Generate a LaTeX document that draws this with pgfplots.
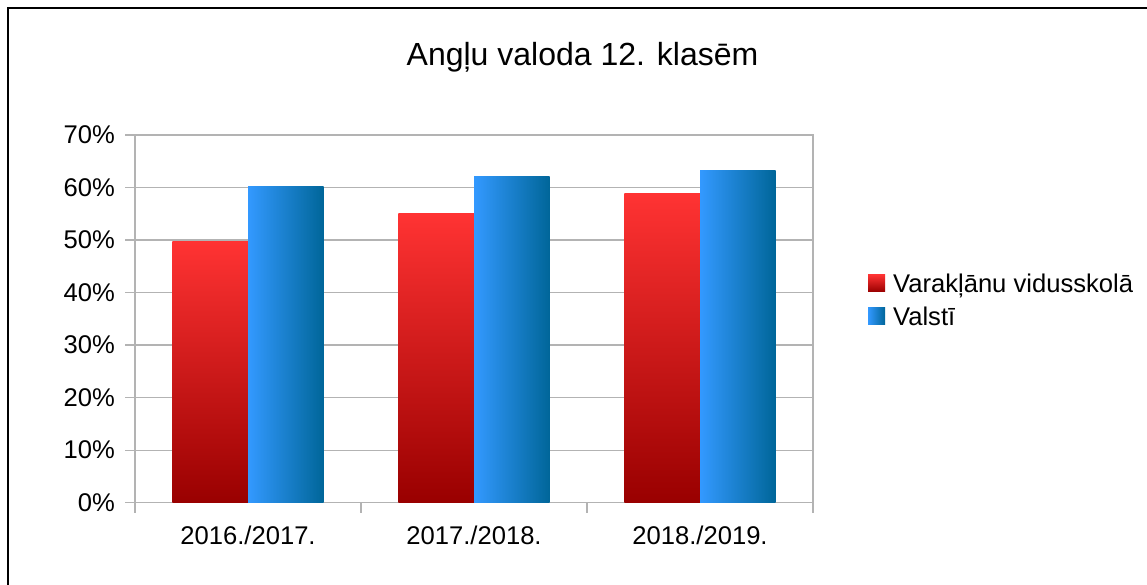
\documentclass[border=0pt]{standalone}
\usepackage{fontspec}
\setmainfont{Liberation Sans}
\usepackage{pgfplots}
\pgfplotsset{compat=1.18}
\definecolor{gridgray}{HTML}{B3B3B3}
\definecolor{redtop}{HTML}{FF3333}
\definecolor{redbot}{HTML}{990000}
\definecolor{blueleft}{HTML}{3399FF}
\definecolor{blueright}{HTML}{006699}
\begin{document}
\begin{tikzpicture}
\path[use as bounding box] (0pt,0pt) rectangle (1147pt,585pt);
\fill[white] (0pt,0pt) rectangle (1147pt,585pt);
\draw[line width=2.2pt, black] (8pt,0pt) -- (8pt,577pt) -- (1150pt,577pt);
\node[anchor=base, font=\fontsize{32}{36}\selectfont, inner sep=0pt] at (582.5pt,519.5pt) {Angļu valoda 12. klasēm};
\begin{axis}[
  at={(135pt,82.3pt)}, anchor=south west,
  scale only axis, width=678pt, height=367.7pt,
  ybar=0pt, bar width=75.6pt,
  xmin=-0.5, xmax=2.5, ymin=0, ymax=70,
  xtick={-0.5,0.5,1.5,2.5},
  xticklabels={},
  extra x ticks={0,1,2},
  extra x tick labels={2016./2017.,2017./2018.,2018./2019.},
  extra x tick style={major tick length=0pt, xticklabel style={yshift=-23pt}},
  ytick={0,10,...,70},
  yticklabel={\pgfmathprintnumber{\tick}\%},
  /pgf/number format/assume math mode=true,
  tick align=outside,
  xtick pos=bottom, ytick pos=left,
  major tick length=10pt,
  tick style={gridgray, line width=1.3pt},
  axis line style={gridgray, line width=1.3pt},
  ymajorgrids, grid style={gridgray, line width=1.3pt},
  ticklabel style={font=\fontsize{25.6}{30}\selectfont, text=black, inner sep=0pt},
  yticklabel style={xshift=-10pt},
  legend style={at={(1.081,0.544)}, anchor=west, draw=none, fill=none, inner sep=0pt,
    font=\fontsize{25.6}{30}\selectfont, row sep=10pt,
    nodes={inner sep=0pt, text height=18pt, text depth=5pt},
    /tikz/every odd column/.append style={column sep=8pt}},
  legend cell align=left,
  legend image code/.code={\draw[#1, draw=none] (0pt,-5.5pt) rectangle (17pt,11.5pt);},
  red bar/.style={draw=none, bar shift=-37.8pt, top color=redtop, bottom color=redbot},
  blue bar/.style={draw=none, bar shift=37.8pt, left color=blueleft, right color=blueright},
]
% Varakļānu vidusskolā: 49.7, 55.0, 58.9 ; Valstī: 60.1, 62.1, 63.2
\addplot[red bar] coordinates {(0,49.7)};
\addlegendentry{Varakļānu vidusskolā}
\addplot[blue bar] coordinates {(0,60.1)};
\addlegendentry{Valstī}
\addplot[red bar, forget plot] coordinates {(1,55.0)};
\addplot[red bar, forget plot] coordinates {(2,58.9)};
\addplot[blue bar, forget plot] coordinates {(1,62.1)};
\addplot[blue bar, forget plot] coordinates {(2,63.2)};
\end{axis}
\end{tikzpicture}
\end{document}
